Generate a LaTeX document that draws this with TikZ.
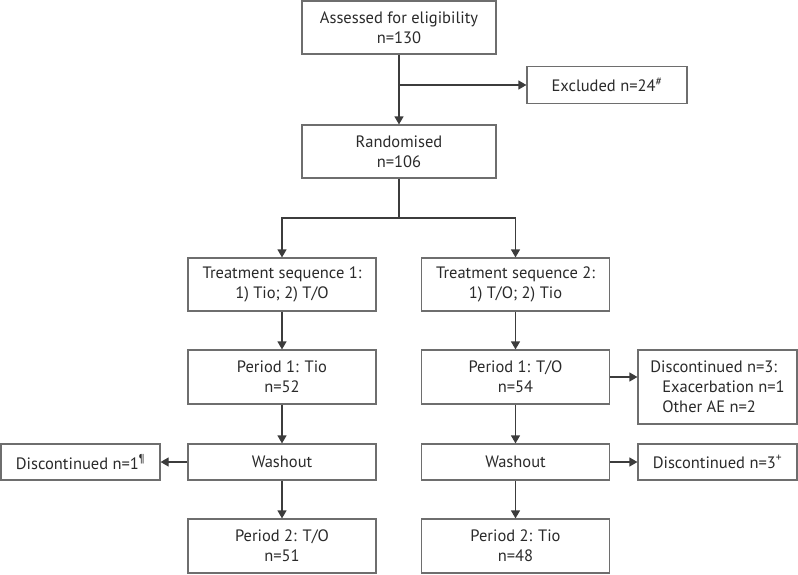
\documentclass[tikz,border=0pt]{standalone}
\usepackage{fontspec}
\setmainfont{PT Sans}
\usepackage{xcolor}
\usetikzlibrary{arrows.meta}
\definecolor{boxgray}{HTML}{6E6E6E}
\definecolor{txtgray}{HTML}{2A2A2A}
\definecolor{lngray}{HTML}{3C3C3C}

\begin{document}
\begin{tikzpicture}[x=1pt, y=-1pt, line width = 1.2pt,
  box/.style={draw=boxgray, text=txtgray, align=center, inner sep=0pt,
    minimum width=188, minimum height=53, font=\fontsize{16.5}{20}\selectfont},
  arr/.style={draw=lngray, -{Triangle[length=8pt,width=9pt]}},
  ln/.style={draw=lngray}]
\useasboundingbox (0,0) rectangle (798,574);
% 上面: 筛选
\node[box, minimum width=194] (assess) at(399,27.5){Assessed for eligibility\\n=130};
\node[box, minimum width=160, minimum height=37] (excl) at(607,85){Excluded n=24\textsuperscript{\#}};
\node[box, minimum width=194] (rand) at(399,151.5){Randomised\\n=106};
% 左列
\node[box] (seq1) at(282,284.5){Treatment sequence 1:\\1) Tio; 2) T/O};
\node[box, minimum height=54] (p1a) at(282,377){Period 1: Tio\\n=52};
\node[box, minimum height=36] (washa) at(282,462){Washout};
\node[box, minimum height=54] (p2a) at(282,546){Period 2: T/O\\n=51};
\node[box, minimum width=159, minimum height=36] (disc1) at(80.5,462){Discontinued n=1\textsuperscript{¶}};
% 右列
\node[box] (seq2) at(515.5,284.5){Treatment sequence 2:\\1) T/O; 2) Tio};
\node[box, minimum height=54] (p1b) at(515.5,377){Period 1: T/O\\n=54};
\node[box, minimum height=36] (washb) at(515.5,462){Washout};
\node[box, minimum height=54] (p2b) at(515.5,546){Period 2: Tio\\n=48};
\node[box, minimum width=159, minimum height=74, align=left] (disc3) at(717.5,387){Discontinued n=3:\\\hspace{12pt}Exacerbation n=1\\\hspace{12pt}Other AE n=2};
\node[box, minimum width=159, minimum height=36] (disc3b) at(717.5,462){Discontinued n=3\textsuperscript{+}};
% 连线
\coordinate (exclpt) at(399,85);
\coordinate (fork) at(399,218);
\draw[arr] (assess) -- (rand);
\draw[arr] (exclpt) -- (excl);
\draw[ln] (rand) -- (fork);
\draw[arr] (fork) -| (seq1);
\draw[arr] (fork) -| (seq2);
\draw[arr] (seq1) -- (p1a);
\draw[arr] (p1a) -- (washa);
\draw[arr] (washa) -- (p2a);
\draw[arr] (washa) -- (disc1);
\draw[arr] (seq2) -- (p1b);
\draw[arr] (p1b) -- (washb);
\draw[arr] (washb) -- (p2b);
\draw[arr] (p1b.east) -- (p1b.east -| disc3.west);
\draw[arr] (washb) -- (disc3b);
\end{tikzpicture}
\end{document}
